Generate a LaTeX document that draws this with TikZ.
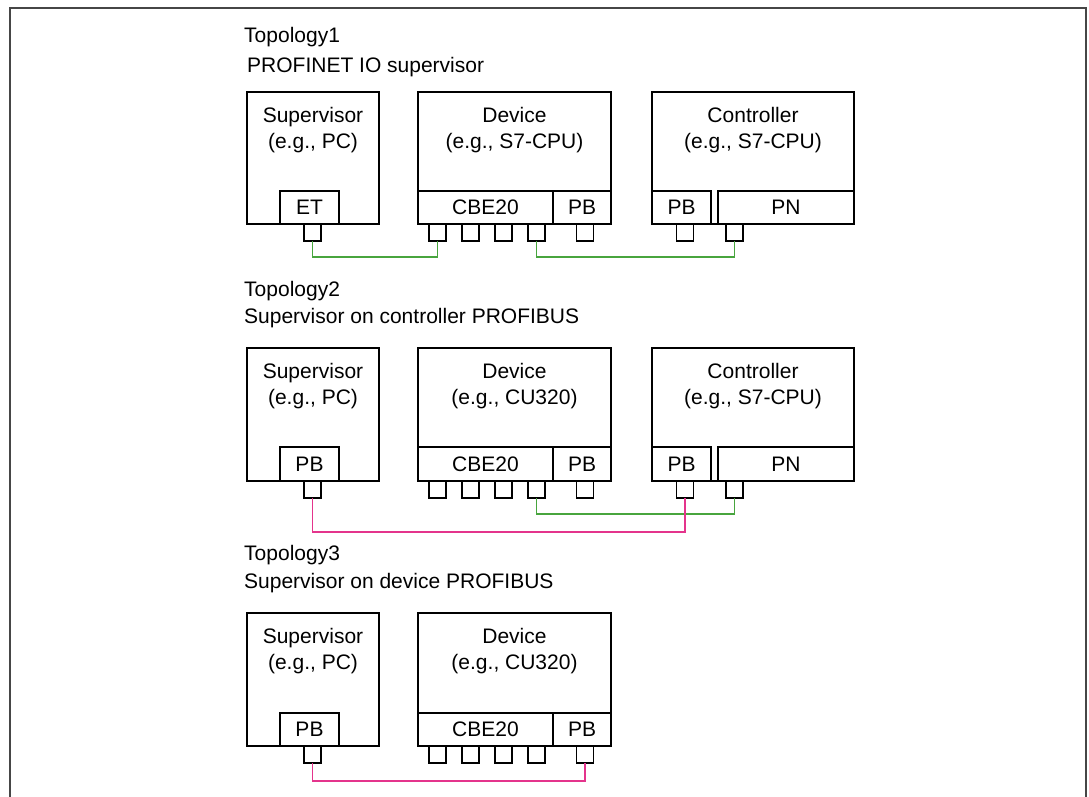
\documentclass[tikz,border=0pt]{standalone}
\usepackage{fontspec}
\setmainfont{Liberation Sans}
\definecolor{ethgreen}{RGB}{72,165,62}
\definecolor{pbpink}{RGB}{228,52,140}
\definecolor{framegray}{RGB}{70,70,70}
\begin{document}
\begin{tikzpicture}[x=1pt,y=-1pt,font=\fontsize{21}{25}\selectfont,
  box/.style={draw=black,line width=1.2pt,anchor=north west,inner sep=0pt,outer sep=0pt},
  port/.style={draw=black,line width=1.2pt,anchor=north,minimum width=17pt,minimum height=17pt,inner sep=0pt,outer sep=0pt},
  lbl/.style={anchor=base,inner sep=0pt},
  ttl/.style={anchor=base west,inner sep=0pt},
  eth/.style={draw=ethgreen,line width=1.3pt},
  pbus/.style={draw=pbpink,line width=1.3pt}]
\useasboundingbox (0,0) rectangle (1089,796);
\clip (0,0) rectangle (1089,796);
\draw[framegray,line width=2pt] (10,8) rectangle (1086,830);

% ---------- Topology 1 ----------
\node[ttl] (t1) at (244,42) {Topology1};
\node[ttl] (t1s) at (247,72) {PROFINET IO supervisor};
% supervisor
\node[box,minimum width=132pt,minimum height=132pt] (s1) at (247,92) {};
\node[lbl] (s1a) at (313,122) {Supervisor};
\node[lbl] (s1b) at (313,148) {(e.g., PC)};
\node[box,minimum width=59pt,minimum height=33pt] (s1et) at (280,191) {ET};
\node[port] (s1p) at (312.5,224) {};
% device
\node[box,minimum width=193pt,minimum height=132pt] (d1) at (418,92) {};
\node[lbl] (d1a) at (514.5,122) {Device};
\node[lbl] (d1b) at (514.5,148) {(e.g., S7-CPU)};
\node[box,minimum width=135pt,minimum height=33pt] (d1cb) at (418,191) {CBE20};
\node[box,minimum width=58pt,minimum height=33pt] (d1pb) at (553,191) {PB};
\node[port] (d1p1) at (437.5,224) {};
\node[port] (d1p2) at (470.5,224) {};
\node[port] (d1p3) at (503.5,224) {};
\node[port] (d1p4) at (536.5,224) {};
\node[port] (d1p5) at (585,224) {};
% controller
\node[box,minimum width=202pt,minimum height=132pt] (c1) at (652,92) {};
\node[lbl] (c1a) at (753,122) {Controller};
\node[lbl] (c1b) at (753,148) {(e.g., S7-CPU)};
\node[box,minimum width=59pt,minimum height=33pt] (c1pb) at (652,191) {PB};
\node[box,minimum width=136pt,minimum height=33pt] (c1pn) at (718,191) {PN};
\node[port] (c1p1) at (685,224) {};
\node[port] (c1p2) at (734.5,224) {};
% links
\draw[eth] (s1p.south) -- ++(0,16) -| (d1p1.south);
\draw[eth] (d1p4.south) -- ++(0,16) -| (c1p2.south);

% ---------- Topology 2 ----------
\node[ttl] (t2) at (244,296) {Topology2};
\node[ttl] (t2s) at (244,323) {Supervisor on controller PROFIBUS};
\node[box,minimum width=132pt,minimum height=133pt] (s2) at (247,348) {};
\node[lbl] (s2a) at (313,378) {Supervisor};
\node[lbl] (s2b) at (313,404) {(e.g., PC)};
\node[box,minimum width=59pt,minimum height=34pt] (s2pb) at (280,447) {PB};
\node[port] (s2p) at (312.5,481) {};
\node[box,minimum width=193pt,minimum height=133pt] (d2) at (418,348) {};
\node[lbl] (d2a) at (514.5,378) {Device};
\node[lbl] (d2b) at (514.5,404) {(e.g., CU320)};
\node[box,minimum width=135pt,minimum height=34pt] (d2cb) at (418,447) {CBE20};
\node[box,minimum width=58pt,minimum height=34pt] (d2pb) at (553,447) {PB};
\node[port] (d2p1) at (437.5,481) {};
\node[port] (d2p2) at (470.5,481) {};
\node[port] (d2p3) at (503.5,481) {};
\node[port] (d2p4) at (536.5,481) {};
\node[port] (d2p5) at (585,481) {};
\node[box,minimum width=202pt,minimum height=133pt] (c2) at (652,348) {};
\node[lbl] (c2a) at (753,378) {Controller};
\node[lbl] (c2b) at (753,404) {(e.g., S7-CPU)};
\node[box,minimum width=59pt,minimum height=34pt] (c2pb) at (652,447) {PB};
\node[box,minimum width=136pt,minimum height=34pt] (c2pn) at (718,447) {PN};
\node[port] (c2p1) at (685,481) {};
\node[port] (c2p2) at (734.5,481) {};
\draw[eth] (d2p4.south) -- ++(0,16) -| (c2p2.south);
\draw[pbus] (s2p.south) -- ++(0,34) -| (c2p1.south);

% ---------- Topology 3 ----------
\node[ttl] (t3) at (244,560) {Topology3};
\node[ttl] (t3s) at (244,588) {Supervisor on device PROFIBUS};
\node[box,minimum width=132pt,minimum height=133pt] (s3) at (247,613) {};
\node[lbl] (s3a) at (313,643) {Supervisor};
\node[lbl] (s3b) at (313,669) {(e.g., PC)};
\node[box,minimum width=59pt,minimum height=33pt] (s3pb) at (280,713) {PB};
\node[port] (s3p) at (312.5,746) {};
\node[box,minimum width=193pt,minimum height=133pt] (d3) at (418,613) {};
\node[lbl] (d3a) at (514.5,643) {Device};
\node[lbl] (d3b) at (514.5,669) {(e.g., CU320)};
\node[box,minimum width=135pt,minimum height=33pt] (d3cb) at (418,713) {CBE20};
\node[box,minimum width=58pt,minimum height=33pt] (d3pb) at (553,713) {PB};
\node[port] (d3p1) at (437.5,746) {};
\node[port] (d3p2) at (470.5,746) {};
\node[port] (d3p3) at (503.5,746) {};
\node[port] (d3p4) at (536.5,746) {};
\node[port] (d3p5) at (585,746) {};
\draw[pbus] (s3p.south) -- ++(0,18) -| (d3p5.south);
\end{tikzpicture}
\end{document}
